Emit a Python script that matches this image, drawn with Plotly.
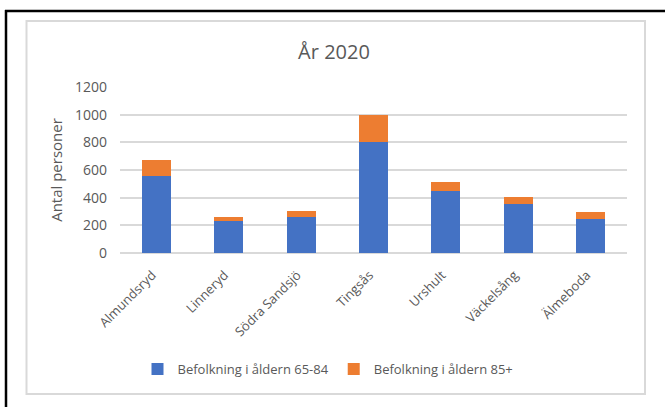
import plotly.graph_objects as go

categories = ["Almundsryd", "Linneryd", "Södra Sandsjö", "Tingsås", "Urshult", "Väckelsång", "Älmeboda"]
pop_65_84 = [560, 230, 261, 801, 446, 355, 247]
pop_85 = [112, 31, 44, 200, 67, 48, 50]
series_names = ["Befolkning i åldern 65-84", "Befolkning i åldern 85+"]
y_ticks = [0, 200, 400, 600, 800, 1000, 1200]

W, H = 665, 407
L, R, T, B = 120, 38, 87, 154
PW, PH = W - L - R, H - T - B

def px(x):
    return (x - L) / PW

def py(y):
    return (H - B - y) / PH

FONT = "Open Sans"
TXT = "#595959"

fig = go.Figure()
fig.add_trace(go.Bar(x=categories, y=pop_65_84, name=series_names[0],
                     marker=dict(color="#4472C4", line=dict(width=0))))
fig.add_trace(go.Bar(x=categories, y=pop_85, name=series_names[1],
                     marker=dict(color="#ED7D31", line=dict(width=0))))

fig.update_layout(
    width=W, height=H,
    margin=dict(l=L, r=R, t=T, b=B, autoexpand=False),
    barmode="stack", bargap=0.6,
    paper_bgcolor="white", plot_bgcolor="white",
    font=dict(family=FONT, color=TXT, size=13),
    title=dict(text="År 2020", x=334 / W, xanchor="center", y=1 - 52 / H, yanchor="middle",
               font=dict(family=FONT, size=20, color=TXT)),
    showlegend=True,
    legend=dict(orientation="h", x=px(328), xanchor="center", y=py(369), yanchor="middle",
                font=dict(family=FONT, size=13, color=TXT), itemwidth=30, traceorder="normal"),
    xaxis=dict(tickangle=-45, showgrid=False, showline=False, ticks="",
               tickfont=dict(family=FONT, size=13, color=TXT), ticklabelstandoff=11,
               ticklabelshift=-4),
    yaxis=dict(range=[0, 1200], tickvals=y_ticks, showgrid=True, gridcolor="#d9d9d9", gridwidth=1.5,
               zeroline=True, zerolinecolor="#d9d9d9", zerolinewidth=1.5, showline=False,
               tickfont=dict(family=FONT, size=14, color=TXT), ticklabelstandoff=12,
               title=dict(text="Antal personer", font=dict(family=FONT, size=15, color=TXT), standoff=8)),
    shapes=[
        dict(type="rect", xref="paper", yref="paper", x0=px(26.5), x1=px(645), y0=py(394), y1=py(21),
             line=dict(color="#d9d9d9", width=2), layer="below"),
        dict(type="line", xref="paper", yref="paper", x0=px(6), x1=px(6), y0=py(10), y1=py(H + 5),
             line=dict(color="black", width=2.5)),
        dict(type="line", xref="paper", yref="paper", x0=px(5), x1=px(W + 5), y0=py(11), y1=py(11),
             line=dict(color="black", width=2.5)),
    ],
)

fig.write_html("out.html", config={"displayModeBar": False},
               post_script="document.body.style.margin='0';document.body.style.overflow='hidden';")
